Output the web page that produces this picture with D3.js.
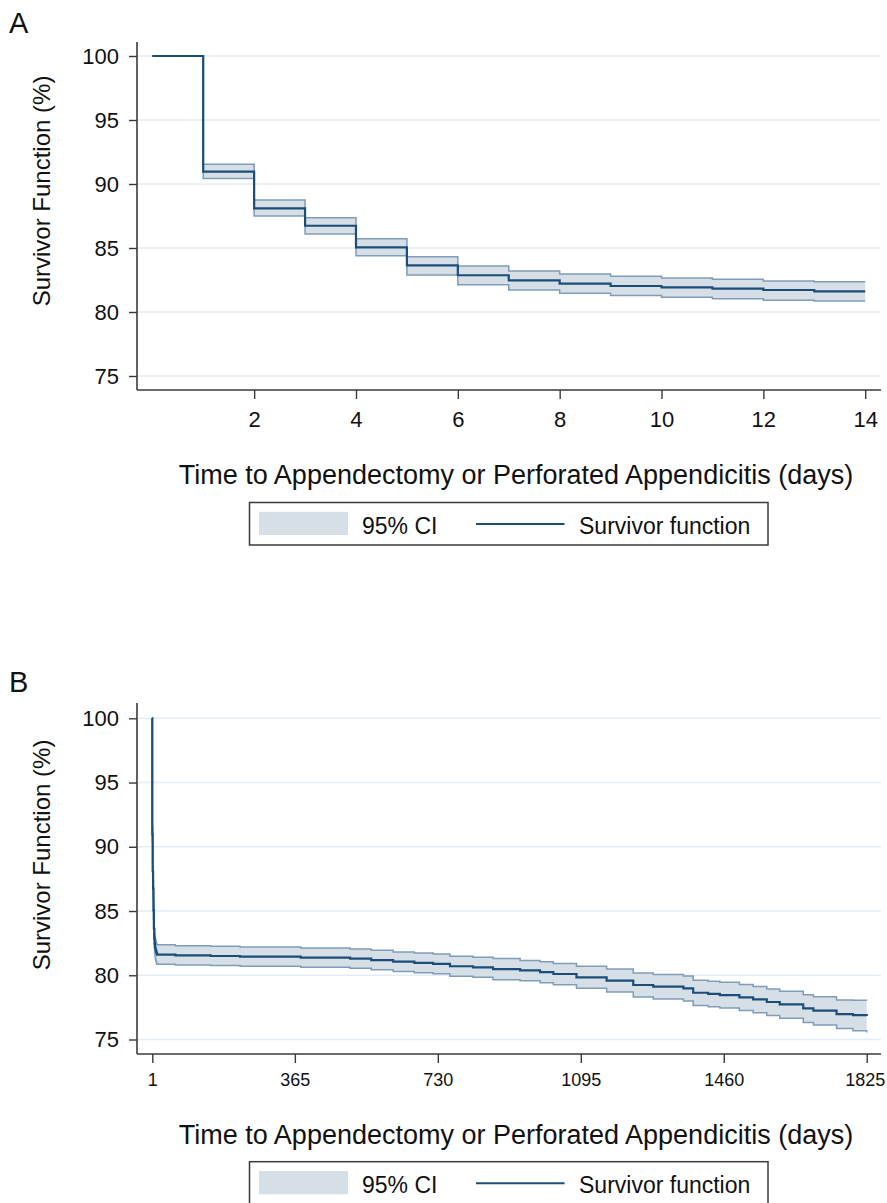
<!DOCTYPE html>
<html>
<head>
<meta charset="utf-8">
<script src="https://cdn.jsdelivr.net/npm/d3@7"></script>
<style>
    body { margin: 0; background: #fff; }
    text { font-family: "Liberation Sans", Arial, Helvetica, sans-serif; fill: #111; }
</style>
</head>
<body>
<div id="canvas"></div>
<script>
"use strict"

/* ---- data ---- */

/* panel A: first two weeks, one step per day */
let daysA = [0, 1, 2, 3, 4, 5, 6, 7, 8, 9, 10, 11, 12, 13, 14];
let survA = [100, 90.96, 88.10, 86.74, 85.05, 83.64, 82.87, 82.47, 82.21, 82.03, 81.93, 81.82, 81.72, 81.61, 81.61];
let upperA = [100, 91.54, 88.75, 87.37, 85.73, 84.32, 83.60, 83.20, 82.97, 82.79, 82.66, 82.55, 82.42, 82.37, 82.37];
let lowerA = [100, 90.42, 87.50, 86.10, 84.40, 82.90, 82.13, 81.72, 81.46, 81.28, 81.15, 81.04, 80.91, 80.86, 80.86];

/* panel B: same first two weeks, then the long tail up to 5 years */
let daysLate = [60, 150, 225, 380, 506, 560, 616, 670, 718, 761, 820, 871, 940, 991, 1025, 1084, 1161, 1229, 1280, 1357, 1382, 1420, 1450, 1500, 1535, 1570, 1603, 1663, 1689, 1748, 1790, 1825];
let survLate = [81.55, 81.50, 81.45, 81.38, 81.30, 81.18, 81.06, 80.96, 80.88, 80.70, 80.62, 80.47, 80.38, 80.25, 80.10, 79.84, 79.58, 79.24, 79.11, 78.98, 78.64, 78.55, 78.46, 78.28, 78.12, 77.92, 77.73, 77.42, 77.24, 76.98, 76.90, 76.83];
let upperLate = [82.30, 82.25, 82.20, 82.12, 82.05, 81.94, 81.82, 81.73, 81.65, 81.48, 81.40, 81.30, 81.15, 81.05, 80.92, 80.70, 80.48, 80.18, 80.05, 79.95, 79.62, 79.54, 79.45, 79.28, 79.12, 78.94, 78.76, 78.48, 78.32, 78.08, 78.05, 78.03];
let lowerLate = [80.80, 80.75, 80.70, 80.62, 80.55, 80.42, 80.30, 80.20, 80.12, 79.92, 79.84, 79.65, 79.58, 79.42, 79.26, 78.98, 78.70, 78.30, 78.15, 78.00, 77.65, 77.55, 77.45, 77.26, 77.08, 76.86, 76.65, 76.33, 76.12, 75.85, 75.68, 75.55];

let daysB = daysA.concat(daysLate);
let survB = survA.concat(survLate);
let upperB = upperA.concat(upperLate);
let lowerB = lowerA.concat(lowerLate);

/* tick labels */
let yTicks = [75, 80, 85, 90, 95, 100];
let xTicksA = [2, 4, 6, 8, 10, 12, 14];
let xTicksB = [1, 365, 730, 1095, 1460, 1825];

let xTitle = "Time to Appendectomy or Perforated Appendicitis (days)";
let yTitle = "Survivor Function (%)";
let legendLabels = ["95% CI", "Survivor function"];

/* colours */
let navy = "#1b4d78";
let ciFill = "#d6dee6";
let ciEdge = "#7f9dba";
let gridColor = "#e3edf5";
let axisColor = "#3a3a3a";

let drawing = d3.select("#canvas")
    .append("svg")
    .attr("width", 887)
    .attr("height", 1203);

drawing.append("rect")
    .attr("width", 887)
    .attr("height", 1203)
    .attr("fill", "#fff");

/* one Kaplan-Meier panel */
function drawPanel(p) {
    let rows = p.days.map((d, i) => ({ t: d, s: p.surv[i], hi: p.upper[i], lo: p.lower[i] }));

    let x = d3.scaleLinear().domain(p.xDomain).range(p.xRange);
    let y = d3.scaleLinear().domain([75, 100]).range([p.y75, p.y100]);

    let g = drawing.append("g");

    /* panel letter */
    g.append("text")
        .attr("x", 9)
        .attr("y", p.letterY)
        .attr("font-size", 29)
        .text(p.letter);

    /* gridlines */
    g.selectAll(".grid")
        .data(yTicks)
        .enter()
        .append("line")
        .attr("x1", 138)
        .attr("x2", 881)
        .attr("y1", d => y(d))
        .attr("y2", d => y(d))
        .attr("stroke", gridColor)
        .attr("stroke-width", 1.6);

    /* CI band */
    g.append("path")
        .datum(rows)
        .attr("d", d3.area()
            .curve(d3.curveStepAfter)
            .x(d => x(d.t))
            .y0(d => y(d.lo))
            .y1(d => y(d.hi)))
        .attr("fill", ciFill);

    let stepLine = key => d3.line()
        .curve(d3.curveStepAfter)
        .x(d => x(d.t))
        .y(d => y(d[key]));

    ["hi", "lo"].forEach(k => {
        g.append("path")
            .datum(rows)
            .attr("d", stepLine(k))
            .attr("fill", "none")
            .attr("stroke", ciEdge)
            .attr("stroke-width", 1.5);
    });

    /* survivor function */
    g.append("path")
        .datum(rows)
        .attr("d", stepLine("s"))
        .attr("fill", "none")
        .attr("stroke", navy)
        .attr("stroke-width", 2.2);

    /* axes */
    let yAxis = g.append("g")
        .attr("transform", "translate(137,0)")
        .call(d3.axisLeft(y).tickValues(yTicks).tickSize(8).tickPadding(10));
    yAxis.select(".domain").remove();
    yAxis.selectAll("text").attr("font-size", 22).attr("fill", "#111");

    let xAxis = g.append("g")
        .attr("transform", "translate(0," + p.xAxisY + ")")
        .call(d3.axisBottom(x).tickValues(p.xTicks).tickFormat(d3.format("d")).tickSize(9).tickPadding(p.xPad));
    xAxis.select(".domain").remove();
    xAxis.selectAll("text").attr("font-size", p.xFont).attr("fill", "#111");

    g.selectAll(".tick line")
        .attr("stroke", axisColor)
        .attr("stroke-width", 1.4);
    g.selectAll(".tick text")
        .attr("font-family", "Liberation Sans, Arial, sans-serif");

    /* axis lines */
    g.append("line")
        .attr("x1", 137).attr("x2", 137)
        .attr("y1", p.axisTop).attr("y2", p.xAxisY)
        .attr("stroke", axisColor)
        .attr("stroke-width", 1.6);
    g.append("line")
        .attr("x1", 137).attr("x2", 881)
        .attr("y1", p.xAxisY).attr("y2", p.xAxisY)
        .attr("stroke", axisColor)
        .attr("stroke-width", 1.6);

    /* titles */
    g.append("text")
        .attr("transform", "translate(50," + p.yTitleMid + ") rotate(-90)")
        .attr("text-anchor", "middle")
        .attr("font-size", 24)
        .text(yTitle);

    g.append("text")
        .attr("x", 516)
        .attr("y", p.xTitleY)
        .attr("text-anchor", "middle")
        .attr("font-size", 27)
        .text(xTitle);

    /* legend */
    let ly = p.legendTop;
    g.append("rect")
        .attr("x", 249.5).attr("y", ly)
        .attr("width", 518.5).attr("height", 42.5)
        .attr("fill", "#fff")
        .attr("stroke", axisColor)
        .attr("stroke-width", 1.5);
    g.append("rect")
        .attr("x", 259).attr("y", ly + 9.3)
        .attr("width", 89).attr("height", 23.3)
        .attr("fill", ciFill);
    g.append("text")
        .attr("x", 362).attr("y", ly + 31)
        .attr("font-size", 23)
        .text(legendLabels[0]);
    g.append("line")
        .attr("x1", 476).attr("x2", 564.5)
        .attr("y1", ly + 21.5).attr("y2", ly + 21.5)
        .attr("stroke", navy)
        .attr("stroke-width", 2);
    g.append("text")
        .attr("x", 579).attr("y", ly + 31)
        .attr("font-size", 23)
        .text(legendLabels[1]);

    return xAxis;
}

/* A */
drawPanel({
    letter: "A", letterY: 33,
    days: daysA, surv: survA, upper: upperA, lower: lowerA,
    xDomain: [0, 14], xRange: [152.3, 865.2], xTicks: xTicksA, xFont: 22, xPad: 12,
    y75: 376, y100: 56, axisTop: 42, xAxisY: 390,
    yTitleMid: 191, xTitleY: 484, legendTop: 502.5
});

/* B */
let xAxisB = drawPanel({
    letter: "B", letterY: 692,
    days: daysB, surv: survB, upper: upperB, lower: lowerB,
    xDomain: [1, 1825], xRange: [152.3, 866.7], xTicks: xTicksB, xFont: 18, xPad: 10,
    y75: 1039.5, y100: 718.3, axisTop: 703, xAxisY: 1054,
    yTitleMid: 855, xTitleY: 1144, legendTop: 1161.7
});

/* keep the last tick label inside the page */
xAxisB.selectAll(".tick text").filter(d => d === 1825).attr("dx", -2);
</script>
</body>
</html>
